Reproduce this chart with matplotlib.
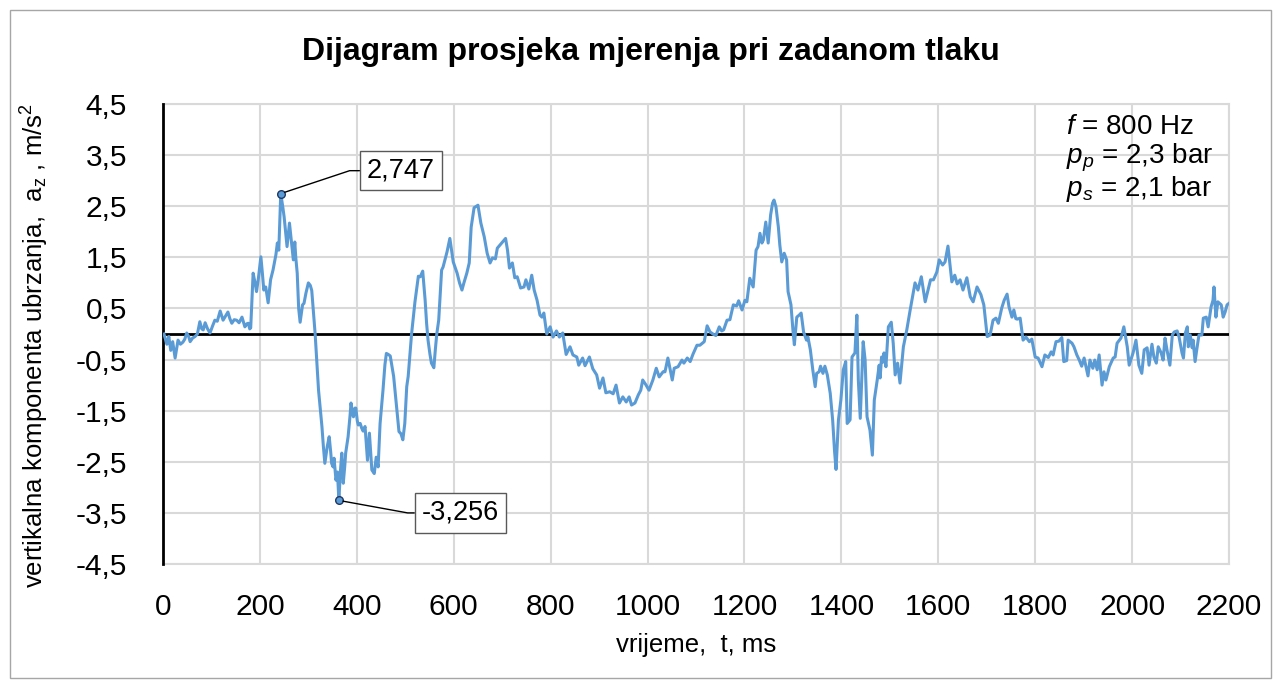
import numpy as np
import matplotlib
matplotlib.use("Agg")
import matplotlib.pyplot as plt
from matplotlib.patches import Rectangle

plt.rcParams['font.family'] = ['Liberation Sans', 'DejaVu Sans']
plt.rcParams['mathtext.fontset'] = 'custom'
plt.rcParams['mathtext.rm'] = 'Liberation Sans'
plt.rcParams['mathtext.it'] = 'Liberation Sans:italic'
plt.rcParams['mathtext.bf'] = 'Liberation Sans:bold'

# ---------------- data ----------------
time_ms = [
    2, 8, 12, 16, 20, 25, 31, 36, 41, 45, 49, 53, 56, 61, 66, 71, 76, 80, 83, 87,
    92, 97, 102, 107, 112, 118, 124, 129, 134, 138, 142, 147, 152, 157, 163, 169, 173, 176, 179, 181,
    186, 190, 193, 197, 202, 205, 208, 212, 217, 222, 227, 231, 233, 236, 239, 243, 247, 250, 253, 256,
    261, 264, 266, 269, 272, 274, 277, 280, 283, 288, 291, 295, 300, 304, 307, 314, 321, 328, 331, 334,
    339, 343, 346, 348, 351, 353, 357, 360, 363, 366, 369, 372, 375, 377, 382, 386, 388, 391, 393, 396,
    398, 401, 403, 407, 410, 413, 417, 422, 426, 431, 434, 436, 440, 444, 448, 454, 458, 461, 465, 469,
    476, 482, 487, 491, 495, 499, 503, 506, 513, 520, 527, 531, 536, 541, 544, 547, 551, 554, 559, 562,
    565, 569, 575, 578, 586, 592, 599, 603, 607, 612, 617, 621, 627, 632, 636, 642, 650, 656, 663, 669,
    675, 680, 686, 690, 699, 707, 711, 715, 721, 726, 731, 738, 745, 749, 755, 761, 766, 772, 778, 782,
    786, 792, 799, 805, 812, 818, 825, 832, 840, 846, 854, 858, 866, 871, 880, 887, 895, 901, 908, 914,
    922, 929, 935, 942, 949, 956, 962, 967, 974, 981, 986, 990, 997, 1003, 1011, 1018, 1024, 1032, 1036, 1042,
    1051, 1055, 1063, 1071, 1075, 1082, 1088, 1094, 1102, 1108, 1117, 1123, 1129, 1135, 1141, 1148, 1153, 1157, 1164, 1170,
    1177, 1184, 1188, 1195, 1201, 1205, 1211, 1218, 1224, 1228, 1232, 1236, 1239, 1244, 1249, 1254, 1258, 1261, 1265, 1270,
    1273, 1277, 1282, 1287, 1290, 1296, 1300, 1303, 1308, 1313, 1317, 1322, 1328, 1331, 1336, 1341, 1346, 1349, 1354, 1357,
    1362, 1366, 1371, 1377, 1382, 1386, 1389, 1394, 1399, 1404, 1409, 1412, 1418, 1422, 1428, 1432, 1435, 1439, 1445, 1449,
    1453, 1459, 1464, 1468, 1474, 1478, 1480, 1483, 1486, 1488, 1492, 1497, 1503, 1507, 1511, 1516, 1521, 1528, 1535, 1542,
    1547, 1552, 1558, 1565, 1573, 1579, 1584, 1590, 1597, 1602, 1609, 1614, 1620, 1623, 1628, 1634, 1639, 1645, 1651, 1659,
    1666, 1672, 1680, 1688, 1694, 1701, 1707, 1713, 1719, 1724, 1731, 1736, 1742, 1746, 1752, 1756, 1760, 1763, 1769, 1775,
    1781, 1788, 1793, 1800, 1806, 1814, 1820, 1827, 1833, 1837, 1843, 1849, 1855, 1859, 1865, 1868, 1876, 1880, 1886, 1891,
    1896, 1901, 1909, 1913, 1919, 1923, 1928, 1932, 1938, 1942, 1946, 1953, 1961, 1965, 1969, 1977, 1983, 1990, 1994, 2002,
    2008, 2014, 2020, 2025, 2031, 2035, 2041, 2045, 2050, 2054, 2060, 2064, 2068, 2072, 2078, 2083, 2087, 2093, 2097, 2103,
    2106, 2110, 2114, 2116, 2120, 2124, 2126, 2130, 2134, 2138, 2144, 2147, 2153, 2157, 2163, 2167, 2169, 2173, 2177, 2184,
    2188, 2192, 2196, 2200,
]
accel_z = [
    0.00, -0.20, -0.05, -0.32, -0.15, -0.47, -0.12, -0.20, -0.16, -0.10, 0.02, -0.05, -0.15, -0.08, -0.05, 0.00, 0.24, 0.10, 0.08, 0.22,
    0.10, 0.02, 0.15, 0.27, 0.25, 0.45, 0.27, 0.35, 0.43, 0.30, 0.21, 0.28, 0.27, 0.22, 0.33, 0.14, 0.20, 0.21, 0.10, 0.12,
    1.19, 1.00, 0.83, 1.10, 1.51, 1.20, 0.86, 0.92, 0.61, 1.06, 1.25, 1.45, 1.55, 1.78, 1.64, 2.747, 2.50, 2.29, 2.00, 1.71,
    2.17, 1.90, 1.71, 1.45, 1.80, 1.50, 1.19, 0.50, 0.23, 0.57, 0.60, 0.80, 1.00, 0.95, 0.85, 0.00, -1.10, -1.81, -2.20, -2.53,
    -2.20, -2.01, -2.30, -2.53, -2.60, -2.43, -2.86, -2.70, -3.256, -2.70, -2.33, -2.92, -2.60, -2.33, -2.01, -1.60, -1.35, -1.55, -1.62, -1.45,
    -1.45, -1.70, -1.78, -1.75, -1.84, -1.90, -1.81, -2.47, -1.94, -2.66, -2.70, -2.73, -2.41, -2.60, -1.75, -1.10, -0.60, -0.38, -0.40, -0.43,
    -0.83, -1.42, -1.91, -1.95, -2.07, -1.75, -1.03, -0.83, 0.00, 0.63, 1.13, 1.12, 1.23, 0.66, 0.21, -0.12, -0.40, -0.57, -0.66, -0.31,
    0.00, 0.27, 1.25, 1.31, 1.60, 1.87, 1.41, 1.30, 1.19, 1.00, 0.86, 1.00, 1.19, 1.39, 2.09, 2.47, 2.52, 2.17, 1.90, 1.58,
    1.39, 1.49, 1.47, 1.68, 1.78, 1.87, 1.64, 1.29, 1.39, 1.10, 1.12, 0.90, 0.92, 1.06, 0.88, 1.15, 0.86, 0.66, 0.37, 0.33,
    0.41, 0.00, 0.14, -0.06, 0.06, -0.06, 0.02, -0.40, -0.25, -0.41, -0.45, -0.61, -0.47, -0.62, -0.45, -0.68, -0.80, -1.06, -0.86, -1.15,
    -1.13, -1.17, -1.00, -1.35, -1.23, -1.33, -1.23, -1.39, -1.35, -1.19, -1.10, -0.90, -1.00, -1.10, -0.90, -0.67, -0.84, -0.74, -0.74, -0.47,
    -0.90, -0.67, -0.64, -0.51, -0.57, -0.47, -0.54, -0.39, -0.22, -0.22, -0.15, 0.16, 0.04, 0.00, -0.03, 0.14, 0.06, 0.08, 0.27, 0.28,
    0.57, 0.55, 0.65, 0.47, 0.66, 0.63, 1.09, 0.92, 1.64, 1.71, 1.97, 1.78, 1.84, 2.19, 1.78, 2.33, 2.56, 2.62, 2.49, 2.09,
    1.74, 1.41, 1.58, 1.45, 0.83, 0.57, 0.08, -0.21, 0.33, 0.37, 0.41, 0.04, -0.12, -0.06, -0.31, -0.70, -1.03, -0.77, -0.74, -0.63,
    -0.77, -0.63, -0.80, -1.16, -1.68, -2.30, -2.65, -1.68, -1.29, -0.70, -0.54, -1.75, -1.68, -0.45, -0.37, 0.37, -0.90, -1.65, -0.15, -0.51,
    -1.62, -1.88, -2.37, -1.29, -0.90, -0.61, -0.86, -0.45, -0.55, -0.37, -0.64, 0.14, 0.23, -0.18, -0.80, -0.57, -0.96, -0.25, 0.08, 0.47,
    0.73, 1.00, 0.86, 1.12, 0.63, 0.86, 1.06, 1.06, 1.21, 1.45, 1.35, 1.41, 1.72, 1.45, 1.02, 1.15, 0.98, 1.06, 0.86, 1.10,
    0.73, 0.63, 0.92, 0.77, 0.57, -0.05, -0.02, 0.27, 0.31, 0.21, 0.51, 0.66, 0.78, 0.53, 0.33, 0.47, 0.30, 0.29, 0.31, -0.12,
    -0.06, -0.15, -0.10, -0.45, -0.47, -0.64, -0.41, -0.46, -0.35, -0.41, -0.15, -0.14, -0.07, -0.54, -0.52, -0.12, -0.18, -0.25, -0.41, -0.51,
    -0.63, -0.47, -0.82, -0.51, -0.67, -0.51, -0.70, -0.41, -1.00, -0.74, -0.90, -0.64, -0.47, -0.45, -0.18, -0.08, 0.14, -0.25, -0.61, -0.37,
    -0.12, -0.61, -0.77, -0.31, -0.27, -0.61, -0.20, -0.45, -0.57, -0.25, -0.37, -0.51, -0.08, -0.31, -0.61, -0.02, 0.04, 0.06, -0.06, -0.37,
    -0.47, 0.02, 0.14, -0.25, -0.02, -0.27, -0.12, -0.54, -0.27, -0.02, -0.02, 0.31, 0.33, 0.14, 0.53, 0.66, 0.92, 0.33, 0.63, 0.57,
    0.33, 0.43, 0.57, 0.60,
]
x_ticks = [0, 200, 400, 600, 800, 1000, 1200, 1400, 1600, 1800, 2000, 2200]
y_ticks = [-4.5, -3.5, -2.5, -1.5, -0.5, 0.5, 1.5, 2.5, 3.5, 4.5]
title_text = "Dijagram prosjeka mjerenja pri zadanom tlaku"
x_label = "vrijeme,  t, ms"
y_label = "vertikalna komponenta ubrzanja,  a$_\\mathregular{z}$ , m/s$^\\mathregular{2}$"
info_lines = ["$\\mathit{f}$ = 800 Hz", "$\\mathit{p_p}$ = 2,3 bar", "$\\mathit{p_s}$ = 2,1 bar"]

# ---------------- figure ----------------
W, H = 1281, 686
fig = plt.figure(figsize=(W / 100, H / 100), dpi=100)
fig.patch.set_facecolor('white')
fig.patches.append(Rectangle((10 / W, 8 / H), (1271 - 10) / W, (676 - 8) / H,
                             transform=fig.transFigure, fill=False,
                             edgecolor='#A6A6A6', lw=1.0, zorder=0))

L, R, T, B = 163, 1229, 104, 564
ax = fig.add_axes([L / W, 1 - B / H, (R - L) / W, (B - T) / H])

t = np.array(time_ms, dtype=float)
a = np.array(accel_z, dtype=float)
blue = '#5B9BD5'

ax.set_xlim(0, 2200)
ax.set_ylim(-4.5, 4.5)
ax.set_xticks(x_ticks)
ax.set_yticks(y_ticks)
ax.set_xticklabels([str(v) for v in x_ticks])
ax.set_yticklabels([f"{v:.1f}".replace('.', ',') for v in y_ticks])
ax.tick_params(axis='both', length=0, labelsize=21.5, colors='black')
ax.tick_params(axis='x', pad=21)
ax.tick_params(axis='y', pad=26)

ax.grid(True, color='#D9D9D9', lw=1.5, zorder=0)
for s in ['top', 'right', 'bottom']:
    ax.spines[s].set_color('#D9D9D9')
    ax.spines[s].set_linewidth(1.5)
ax.spines['left'].set_color('black')
ax.spines['left'].set_linewidth(2.0)
ax.spines['left'].set_zorder(3)
ax.axhline(0, color='black', lw=2.0, zorder=3)

ax.plot(t, a, color=blue, lw=2.2, zorder=4, solid_joinstyle='round')

# extreme annotations
imax = int(np.argmax(a))
imin = int(np.argmin(a))
for idx, ang, off in [(imax, 18.4, (62, 16.5)), (imin, -10.3, (59.5, -9))]:
    ax.plot(t[idx], a[idx], 'o', ms=5.5, mfc=blue, mec='#1F3864', mew=1.0, zorder=6)
    ax.annotate(f"{a[idx]:.3f}".replace('.', ','), xy=(t[idx], a[idx]),
                xytext=off, textcoords='offset points', ha='left', va='center',
                fontsize=19.5,
                bbox=dict(boxstyle='square,pad=0.25', fc='white', ec='#595959', lw=1.0),
                arrowprops=dict(arrowstyle='-', color='black', lw=1.0, shrinkA=0, shrinkB=3,
                                relpos=(0, 0.5),
                                connectionstyle=f"angle,angleA=0,angleB={ang},rad=0"),
                zorder=7)

# info block
for i, line in enumerate(info_lines):
    fig.text(1066 / W, 1 - (127 + i * 31) / H, line, fontsize=20, ha='left', va='center')

fig.text(651 / W, 1 - 52 / H, title_text, fontsize=23, fontweight='bold', ha='center', va='center')
ax.set_xlabel(x_label, fontsize=18.5)
ax.xaxis.set_label_coords(0.5, (B - 645) / (B - T))
ax.xaxis.label.set_va('center')
ax.set_ylabel(y_label, fontsize=18.5)
ax.yaxis.set_label_coords((35 - L) / (R - L), (B - 345) / (B - T))
ax.yaxis.label.set_va('center')

fig.savefig('out.png', dpi=100)
